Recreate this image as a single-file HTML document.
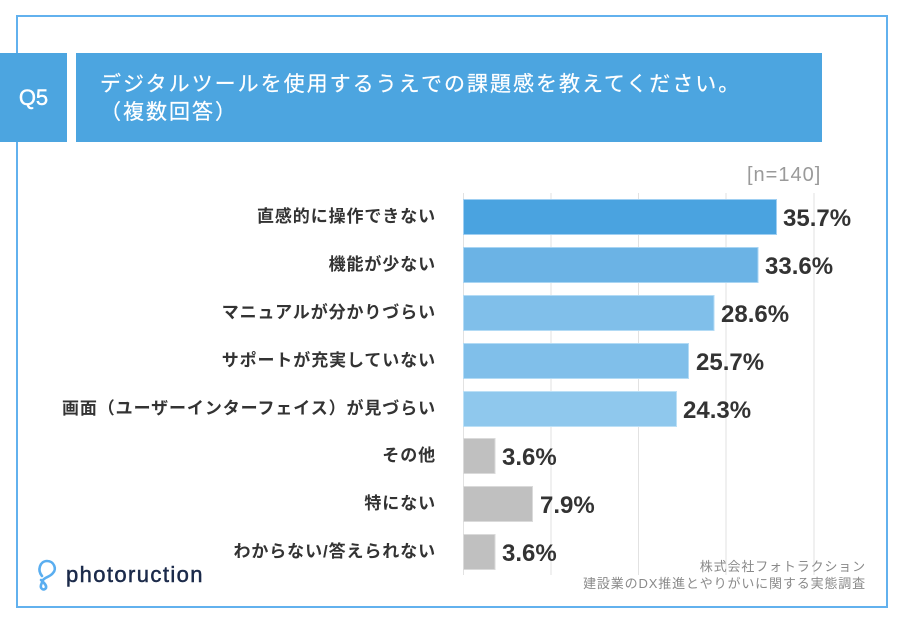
<!DOCTYPE html>
<html>
<head>
<meta charset="utf-8">
<style>
  html,body{margin:0;padding:0;background:#fff;}
  body{width:904px;height:624px;position:relative;overflow:hidden;font-family:"Liberation Sans","Noto Sans CJK JP",sans-serif;}
  .abs{position:absolute;white-space:nowrap;}
  .lbl{position:absolute;right:468px;height:26px;line-height:26px;font-size:17px;font-weight:bold;color:#333;letter-spacing:0.9px;font-family:"Liberation Sans","Noto Sans CJK JP",sans-serif;}
  .val{position:absolute;height:30px;line-height:30px;font-size:24px;font-weight:bold;color:#333;font-family:"Liberation Sans",sans-serif;}
</style>
</head>
<body>
<svg class="abs" style="left:0;top:0" width="904" height="624" viewBox="0 0 904 624">
  <rect x="17" y="16" width="870" height="591" fill="none" stroke="#62b1ee" stroke-width="2"/>
  <g stroke="#e2e2e2" stroke-width="1">
    <line x1="463.5" y1="193" x2="463.5" y2="575"/>
    <line x1="551" y1="193" x2="551" y2="575"/>
    <line x1="638.5" y1="193" x2="638.5" y2="575"/>
    <line x1="726" y1="193" x2="726" y2="575"/>
    <line x1="814" y1="193" x2="814" y2="575"/>
  </g>
  <rect x="463.5" y="199.5" width="313" height="35" fill="#4aa3e0" stroke="#9fcff2" stroke-width="1"/>
  <rect x="463.5" y="247.5" width="294.5" height="35" fill="#6bb3e5" stroke="#a9d5f3" stroke-width="1"/>
  <rect x="463.5" y="295.5" width="250.5" height="35" fill="#80bfea" stroke="#b3dbf5" stroke-width="1"/>
  <rect x="463.5" y="343.5" width="225" height="35" fill="#80bfea" stroke="#b3dbf5" stroke-width="1"/>
  <rect x="463.5" y="391.5" width="213" height="35" fill="#8fc8ed" stroke="#bce0f6" stroke-width="1"/>
  <rect x="463.5" y="438.5" width="31.5" height="35" fill="#c0c0c0" stroke="#dadada" stroke-width="1"/>
  <rect x="463.5" y="486.5" width="69" height="35" fill="#c0c0c0" stroke="#dadada" stroke-width="1"/>
  <rect x="463.5" y="534.5" width="31.5" height="35" fill="#c0c0c0" stroke="#dadada" stroke-width="1"/>
  <!-- logo icon -->
  <path d="M42 576 C 37 570, 40 561, 47 561 C 54 561, 57 569, 53 573 C 50 577, 45 577, 43 580 L 41 585 C 40 589, 44 591, 46 588 C 47 585, 43 582, 41 580" fill="none" stroke="#5aaef0" stroke-width="2.6" stroke-linecap="round" stroke-linejoin="round"/>
</svg>

<div class="abs" style="left:0;top:53px;width:67px;height:89px;background:#4ca5e0;"></div>
<div class="abs" style="left:0;top:53px;width:67px;height:89px;line-height:89px;text-align:center;color:#fff;font-size:22px;font-family:'Liberation Sans',sans-serif;-webkit-text-stroke:0.4px #fff;">Q5</div>
<div class="abs" style="left:76px;top:53px;width:746px;height:89px;background:#4ca5e0;"></div>
<div class="abs" style="left:100px;top:71px;color:#fff;font-size:21px;line-height:28px;letter-spacing:2px;font-family:'Liberation Sans','Noto Sans CJK JP',sans-serif;-webkit-text-stroke:0.2px #fff;">デジタルツールを使用するうえでの課題感を教えてください。<br>（複数回答）</div>

<div class="abs" style="left:747px;top:162px;font-size:20px;line-height:26px;color:#9a9a9a;letter-spacing:1px;font-family:'Liberation Sans',sans-serif;">[n=140]</div>

<div class="lbl" style="top:204px;">直感的に操作できない</div>
<div class="lbl" style="top:252px;">機能が少ない</div>
<div class="lbl" style="top:300px;">マニュアルが分かりづらい</div>
<div class="lbl" style="top:348px;">サポートが充実していない</div>
<div class="lbl" style="top:396px;">画面（ユーザーインターフェイス）が見づらい</div>
<div class="lbl" style="top:443px;">その他</div>
<div class="lbl" style="top:491px;">特にない</div>
<div class="lbl" style="top:539px;">わからない/答えられない</div>

<div class="val" style="left:783px;top:204px;">35.7%</div>
<div class="val" style="left:765px;top:252px;">33.6%</div>
<div class="val" style="left:721px;top:300px;">28.6%</div>
<div class="val" style="left:696px;top:348px;">25.7%</div>
<div class="val" style="left:683px;top:396px;">24.3%</div>
<div class="val" style="left:502px;top:443px;">3.6%</div>
<div class="val" style="left:540px;top:491px;">7.9%</div>
<div class="val" style="left:502px;top:539px;">3.6%</div>

<div class="abs" style="left:66px;top:561px;font-size:22px;line-height:28px;color:#1b2a4a;letter-spacing:1.4px;font-family:'Liberation Sans',sans-serif;-webkit-text-stroke:0.5px #1b2a4a;">photoruction</div>

<div class="abs" style="right:38px;top:558px;font-size:13px;line-height:17px;color:#8a8a8a;text-align:right;letter-spacing:0.85px;font-family:'Liberation Sans','Noto Sans CJK JP',sans-serif;">株式会社フォトラクション<br>建設業のDX推進とやりがいに関する実態調査</div>
</body>
</html>
